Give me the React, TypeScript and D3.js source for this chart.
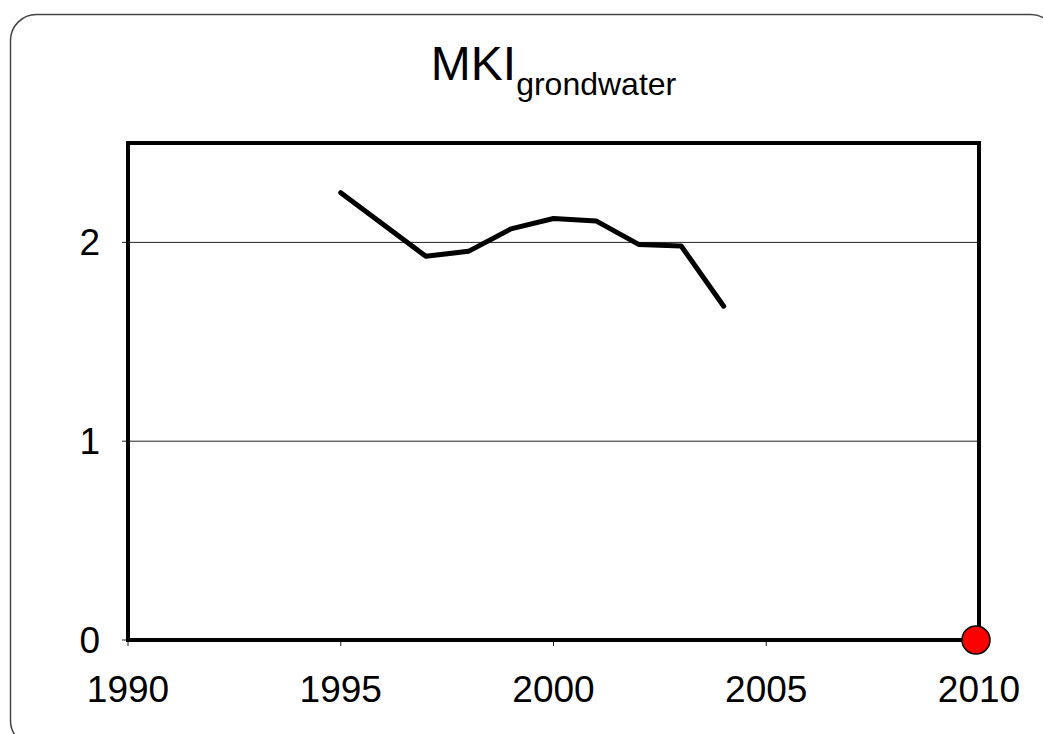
import React from "react";
import * as d3 from "d3";

const years = [1995, 1997, 1998, 1999, 2000, 2001, 2002, 2003, 2004];
const mkiValues = [2.25, 1.93, 1.955, 2.068, 2.12, 2.108, 1.99, 1.982, 1.679];
const targetYear = [2010];
const targetValue = [0];
const xTicks = [1990, 1995, 2000, 2005, 2010];
const yTicks = [0, 1, 2];
const gridValues = [1, 2];

const W = 1043;
const H = 734;
const plot = { left: 128, right: 979, top: 143, bottom: 640 };
const FONT = "'Liberation Sans', Arial, Helvetica, sans-serif";

export default function App() {
  const x = d3.scaleLinear().domain([1990, 2010]).range([plot.left, plot.right]);
  const y = d3.scaleLinear().domain([0, 2.5]).range([plot.bottom, plot.top]);
  const line = d3
    .line<number>()
    .x((_, i) => x(years[i]))
    .y((d) => y(d));

  return (
    <svg
      width={W}
      height={H}
      style={{ position: "absolute", left: 0, top: 0, display: "block", background: "#fff" }}
    >
      <rect x={10.5} y={14.5} width={1046} height={732} rx={26} ry={26} fill="#fff" stroke="#444" strokeWidth={1.5} />
      <text x={(plot.left + plot.right) / 2} y={80} textAnchor="middle" fontFamily={FONT} fill="#000">
        <tspan fontSize={48}>MKI</tspan>
        <tspan fontSize={32} dy={15}>grondwater</tspan>
      </text>
      {gridValues.map((v) => (
        <line key={"g" + v} x1={plot.left} x2={plot.right} y1={y(v)} y2={y(v)} stroke="#222" strokeWidth={1} />
      ))}
      {yTicks.map((v) => (
        <g key={"y" + v}>
          <line x1={plot.left - 6} x2={plot.left} y1={y(v)} y2={y(v)} stroke="#222" strokeWidth={1} />
          <text x={100} y={y(v)} textAnchor="end" dominantBaseline="central" fontFamily={FONT} fontSize={37} fill="#000">
            {v}
          </text>
        </g>
      ))}
      {xTicks.map((v) => (
        <g key={"x" + v}>
          <line x1={x(v)} x2={x(v)} y1={plot.bottom} y2={plot.bottom + 6} stroke="#222" strokeWidth={1} />
          <text x={x(v)} y={702} textAnchor="middle" fontFamily={FONT} fontSize={37} fill="#000">
            {v}
          </text>
        </g>
      ))}
      <rect
        x={plot.left}
        y={plot.top}
        width={plot.right - plot.left}
        height={plot.bottom - plot.top}
        fill="none"
        stroke="#000"
        strokeWidth={4}
      />
      <path d={line(mkiValues) || ""} fill="none" stroke="#000" strokeWidth={5} strokeLinejoin="round" strokeLinecap="round" />
      {targetYear.map((yr, i) => (
        <circle key={"t" + yr} cx={x(yr) - 3} cy={y(targetValue[i])} r={14} fill="#ff0000" stroke="#000" strokeWidth={1.5} />
      ))}
    </svg>
  );
}
